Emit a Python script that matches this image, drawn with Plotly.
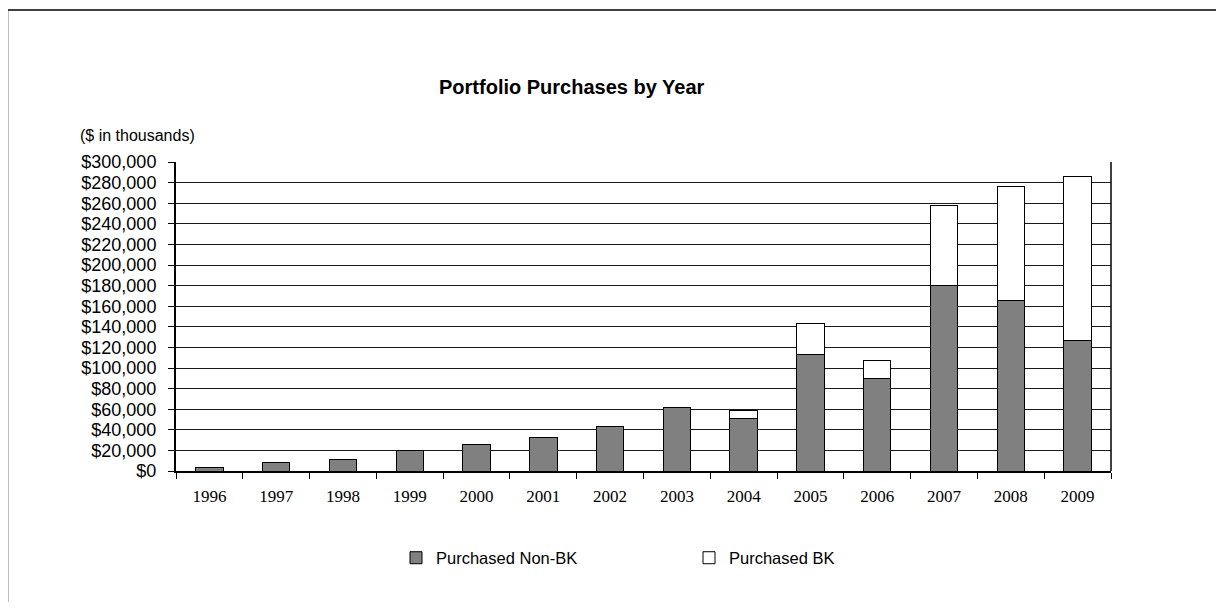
import plotly.graph_objects as go

years = ["1996", "1997", "1998", "1999", "2000", "2001", "2002",
         "2003", "2004", "2005", "2006", "2007", "2008", "2009"]
non_bk = [3200, 8400, 10700, 19600, 26000, 33000, 43000,
          61500, 51000, 113500, 90000, 180000, 166000, 126400]
bk = [0, 0, 0, 0, 0, 0, 0,
      0, 8000, 29700, 17400, 78000, 110000, 159300]

# page has an 8px body margin; figure sized to fit the window
OFF = 8
W, H = 1216, 594
# plot area in screen pixels
SL, SR, ST, SB = 176, 1111, 162, 471
L, R, T, B = SL - OFF, SR - OFF, ST - OFF, SB - OFF

def px(x):  # screen x -> paper
    return (x - SL) / (SR - SL)

def py(y):  # screen y -> paper
    return (SB - y) / (SB - ST)

fig = go.Figure()
fig.add_trace(go.Bar(x=years, y=non_bk, name="Purchased Non-BK",
                     marker=dict(color="#808080", line=dict(color="#000000", width=1))))
fig.add_trace(go.Bar(x=years, y=bk, name="Purchased BK",
                     marker=dict(color="#ffffff", line=dict(color="#000000", width=1))))

sans = "Liberation Sans, Arial, sans-serif"
serif = "Liberation Serif, Times New Roman, serif"

fig.update_layout(
    width=W, height=H,
    margin=dict(l=L, r=W - R, t=T, b=H - B, pad=0),
    barmode="stack", bargap=0.59,
    paper_bgcolor="white", plot_bgcolor="white",
    font=dict(family=sans, color="black", size=16),
    showlegend=True,
    legend=dict(orientation="h", x=px(396), xanchor="left", y=py(558), yanchor="middle",
                font=dict(family=sans, size=16.5), entrywidth=248, entrywidthmode="pixels",
                itemwidth=30, traceorder="normal", bgcolor="rgba(0,0,0,0)"),
    xaxis=dict(type="category", showline=True, linecolor="black", linewidth=2,
               ticks="outside", tickson="boundaries", ticklen=6, tickcolor="black",
               ticklabelstandoff=9,
               tickfont=dict(family=serif, size=17), showgrid=False, fixedrange=True),
    yaxis=dict(range=[0, 300000], dtick=20000, tickprefix="$", tickformat=",d",
               showline=True, linecolor="black", linewidth=2,
               ticks="outside", ticklen=6, tickcolor="black",
               ticklabelstandoff=8,
               tickfont=dict(family=sans, size=18),
               showgrid=True, gridcolor="#1a1a1a", gridwidth=1.2, zeroline=False),
    annotations=[
        dict(text="<b>Portfolio Purchases by Year</b>", x=px(572), y=py(87),
             xref="paper", yref="paper", xanchor="center", yanchor="middle",
             showarrow=False, font=dict(family=sans, size=20)),
        dict(text="($ in thousands)", x=px(78), y=py(136),
             xref="paper", yref="paper", xanchor="left", yanchor="middle",
             showarrow=False, font=dict(family=sans, size=16)),
    ],
    shapes=[
        dict(type="line", xref="paper", yref="paper", x0=1, x1=1, y0=0, y1=1,
             line=dict(color="black", width=1.5)),
        dict(type="rect", xref="paper", yref="paper", x0=px(7.5), x1=px(1219.5),
             y0=py(625), y1=py(10), line=dict(color="black", width=1.5)),
    ],
)

fig.write_html("out.html")
